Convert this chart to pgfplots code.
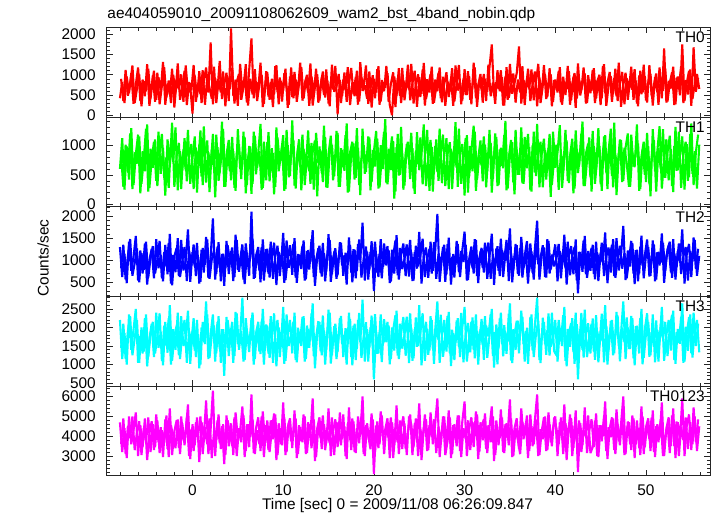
\documentclass[border=0pt]{standalone}
\usepackage{fontspec}
\setmainfont{Liberation Sans}
\usepackage{pgfplots}
\usepackage{pgfplotstable}
\pgfplotsset{compat=1.18}
\definecolor{qred}{RGB}{255,0,0}
\definecolor{qgreen}{RGB}{0,255,0}
\definecolor{qblue}{RGB}{0,0,255}
\definecolor{qcyan}{RGB}{0,255,255}
\definecolor{qmag}{RGB}{255,0,255}
\newcommand{\lab}{\fontsize{15.4}{18}\selectfont}
\tikzset{thlabel/.style={anchor=north east, inner sep=0pt, font=\lab, xshift=-5pt, yshift=-4.5pt}}
\pgfplotsset{
 panel/.style={
  scale only axis, width=603.3pt, height=89.7pt,
  xmin=-9.46, xmax=57.06,
  xtick={-10,0,...,60}, minor x tick num=4,
  minor y tick num=4,
  tick align=inside, tick pos=both,
  major tick length=6pt, minor tick length=3.5pt,
  axis line style={line width=0.8pt, black!85},
  every tick/.style={black!85, line width=0.6pt},
  tick label style={font=\lab},
  /pgf/number format/assume math mode=true,
  /pgf/number format/1000 sep={},
  yticklabel style={inner sep=0pt, xshift=-10.7pt},
  xticklabel style={inner sep=0pt, yshift=-9pt},
  scaled y ticks=false,
  clip=true,
 },
 curve/.style={line width=2.1pt, line join=bevel, mark=none},
}

% even bins (t = -8 + 0.25 i)
\pgfplotstableread[row sep=\\,header=false]{
420\\ 820\\ 300\\ 960\\ 540\\ 1040\\ 280\\ 760\\ 1180\\ 350\\ 880\\ 470\\ 1260\\ 230\\ 690\\ 1100\\
380\\ 940\\ 610\\ 1320\\ 260\\ 780\\ 510\\ 1150\\ 190\\ 870\\ 640\\ 1010\\ 330\\ 1230\\ 560\\ 720\\
40\\ 980\\ 450\\ 1090\\ 300\\ 830\\ 1180\\ 560\\ 1800\\ 270\\ 910\\ 620\\ 1340\\ 400\\ 760\\ 1050\\
350\\ 2150\\ 480\\ 880\\ 230\\ 1270\\ 590\\ 940\\ 310\\ 1120\\ 1900\\ 420\\ 820\\ 660\\ 1300\\ 200\\
730\\ 1060\\ 380\\ 900\\ 520\\ 1240\\ 270\\ 850\\ 610\\ 1150\\ 180\\ 960\\ 450\\ 1070\\ 330\\ 790\\
1190\\ 410\\ 880\\ 560\\ 1280\\ 240\\ 700\\ 1010\\ 360\\ 930\\ 500\\ 1130\\ 290\\ 820\\ 640\\ 1220\\
20\\ 870\\ 470\\ 1060\\ 330\\ 780\\ 1170\\ 520\\ 950\\ 260\\ 1310\\ 600\\ 740\\ 410\\ 1080\\ 190\\
900\\ 560\\ 1210\\ 340\\ 810\\ 680\\ 1040\\ 250\\ 0\\ 960\\ 480\\ 1160\\ 300\\ 860\\ 620\\ 1250\\
370\\ 790\\ 1100\\ 210\\ 940\\ 530\\ 1290\\ 400\\ 720\\ 1020\\ 280\\ 880\\ 590\\ 1180\\ 320\\ 760\\
1060\\ 450\\ 890\\ 230\\ 1230\\ 610\\ 830\\ 360\\ 1140\\ 500\\ 970\\ 270\\ 1300\\ 420\\ 740\\ 1020\\
310\\ 900\\ 580\\ 1200\\ 1750\\ 470\\ 820\\ 650\\ 1110\\ 240\\ 960\\ 380\\ 1270\\ 530\\ 790\\ 1040\\
1700\\ 290\\ 870\\ 620\\ 1150\\ 350\\ 760\\ 1080\\ 220\\ 930\\ 510\\ 1240\\ 400\\ 690\\ 1010\\ 330\\
880\\ 560\\ 1190\\ 260\\ 820\\ 640\\ 1090\\ 370\\ 950\\ 180\\ 1280\\ 490\\ 770\\ 1030\\ 300\\ 860\\
600\\ 1160\\ 410\\ 900\\ 250\\ 1220\\ 540\\ 800\\ 1070\\ 330\\ 920\\ 470\\ 1300\\ 210\\ 750\\ 1050\\
380\\ 870\\ 630\\ 1140\\ 290\\ 980\\ 520\\ 1250\\ 360\\ 810\\ 1020\\ 240\\ 940\\ 570\\ 1180\\ 420\\
1650\\ 310\\ 850\\ 660\\ 1200\\ 270\\ 960\\ 490\\ 1750\\ 350\\ 800\\ 1100\\ 230\\ 1680\\ 580\\ 920\\
}\tha
% odd bins (t = -7.875 + 0.25 i)
\pgfplotstableread[row sep=\\,header=false]{
900\\ 350\\ 1120\\ 480\\ 760\\ 1230\\ 300\\ 650\\ 1010\\ 220\\ 840\\ 590\\ 1150\\ 410\\ 980\\ 330\\
1050\\ 270\\ 720\\ 1190\\ 440\\ 860\\ 300\\ 1000\\ 560\\ 1280\\ 380\\ 690\\ 1100\\ 250\\ 820\\ 610\\
1240\\ 330\\ 780\\ 520\\ 1110\\ 260\\ 950\\ 680\\ 410\\ 1200\\ 300\\ 870\\ 560\\ 1080\\ 220\\ 930\\
640\\ 1170\\ 290\\ 820\\ 1020\\ 380\\ 700\\ 1260\\ 240\\ 900\\ 510\\ 1140\\ 350\\ 760\\ 1000\\ 280\\
1090\\ 460\\ 820\\ 200\\ 1210\\ 570\\ 930\\ 340\\ 1040\\ 690\\ 260\\ 1180\\ 420\\ 880\\ 600\\ 1300\\
360\\ 790\\ 1000\\ 230\\ 960\\ 520\\ 1150\\ 310\\ 740\\ 1080\\ 440\\ 860\\ 220\\ 1250\\ 580\\ 700\\
1020\\ 300\\ 880\\ 620\\ 1190\\ 250\\ 810\\ 470\\ 1100\\ 340\\ 930\\ 710\\ 1230\\ 280\\ 650\\ 990\\
420\\ 1140\\ 260\\ 870\\ 590\\ 1220\\ 330\\ 780\\ 1060\\ 200\\ 920\\ 480\\ 1170\\ 370\\ 840\\ 640\\
1270\\ 290\\ 760\\ 1010\\ 450\\ 1130\\ 240\\ 890\\ 560\\ 1200\\ 310\\ 700\\ 1050\\ 420\\ 950\\ 230\\
830\\ 600\\ 1160\\ 340\\ 780\\ 1240\\ 270\\ 910\\ 500\\ 1090\\ 380\\ 720\\ 1180\\ 210\\ 860\\ 640\\
1020\\ 350\\ 1250\\ 470\\ 810\\ 280\\ 1110\\ 590\\ 940\\ 240\\ 1190\\ 430\\ 760\\ 1030\\ 310\\ 880\\
560\\ 1210\\ 250\\ 900\\ 660\\ 1130\\ 370\\ 820\\ 1270\\ 300\\ 740\\ 1010\\ 450\\ 1160\\ 220\\ 870\\
680\\ 1090\\ 320\\ 950\\ 500\\ 1220\\ 260\\ 780\\ 1040\\ 410\\ 880\\ 620\\ 1180\\ 290\\ 990\\ 540\\
1120\\ 300\\ 840\\ 1000\\ 420\\ 1260\\ 230\\ 720\\ 960\\ 520\\ 1150\\ 350\\ 800\\ 1070\\ 270\\ 910\\
640\\ 1200\\ 380\\ 860\\ 220\\ 1100\\ 560\\ 970\\ 310\\ 1240\\ 470\\ 750\\ 1030\\ 260\\ 890\\ 600\\
1150\\ 340\\ 800\\ 1060\\ 250\\ 930\\ 690\\ 1210\\ 300\\ 870\\ 510\\ 1130\\ 400\\ 770\\ 1020\\ 650\\
}\thaa

\pgfplotstableread[row sep=\\,header=false]{
600\\ 1120\\ 250\\ 980\\ 420\\ 1290\\ 330\\ 850\\ 1180\\ 190\\ 900\\ 560\\ 1350\\ 280\\ 760\\ 1060\\
400\\ 1230\\ 520\\ 960\\ 150\\ 1100\\ 640\\ 1380\\ 300\\ 820\\ 1040\\ 260\\ 930\\ 580\\ 1260\\ 350\\
780\\ 1150\\ 200\\ 1010\\ 470\\ 1320\\ 370\\ 880\\ 620\\ 1190\\ 120\\ 970\\ 540\\ 1400\\ 300\\ 840\\
1090\\ 410\\ 900\\ 230\\ 1270\\ 600\\ 800\\ 1140\\ 330\\ 990\\ 180\\ 1230\\ 510\\ 870\\ 1360\\ 280\\
720\\ 1050\\ 390\\ 950\\ 170\\ 1300\\ 560\\ 830\\ 1170\\ 260\\ 1000\\ 480\\ 1420\\ 320\\ 790\\ 1100\\
240\\ 940\\ 620\\ 1250\\ 350\\ 880\\ 1080\\ 140\\ 980\\ 530\\ 1330\\ 290\\ 860\\ 1160\\ 410\\ 760\\
1210\\ 300\\ 920\\ 570\\ 1370\\ 220\\ 840\\ 1030\\ 450\\ 960\\ 160\\ 1280\\ 520\\ 790\\ 1130\\ 380\\
890\\ 1240\\ 270\\ 1000\\ 600\\ 1440\\ 340\\ 810\\ 1150\\ 100\\ 970\\ 490\\ 1310\\ 250\\ 870\\ 1060\\
430\\ 950\\ 180\\ 1220\\ 580\\ 850\\ 1350\\ 310\\ 770\\ 1090\\ 220\\ 990\\ 550\\ 1280\\ 360\\ 820\\
1120\\ 260\\ 940\\ 640\\ 1390\\ 300\\ 880\\ 1020\\ 150\\ 1170\\ 470\\ 910\\ 1330\\ 230\\ 780\\ 1080\\
390\\ 1010\\ 560\\ 1260\\ 200\\ 860\\ 1140\\ 330\\ 960\\ 610\\ 1410\\ 270\\ 820\\ 1050\\ 170\\ 930\\
500\\ 1300\\ 350\\ 890\\ 1190\\ 240\\ 1000\\ 540\\ 1360\\ 290\\ 840\\ 1110\\ 420\\ 950\\ 130\\ 1230\\
620\\ 880\\ 1340\\ 280\\ 790\\ 1080\\ 360\\ 970\\ 190\\ 1250\\ 530\\ 860\\ 1400\\ 310\\ 740\\ 1130\\
220\\ 990\\ 590\\ 1290\\ 340\\ 900\\ 1170\\ 260\\ 1030\\ 480\\ 1380\\ 160\\ 850\\ 1090\\ 400\\ 960\\
1200\\ 300\\ 870\\ 630\\ 1350\\ 230\\ 810\\ 1060\\ 380\\ 980\\ 140\\ 1270\\ 560\\ 900\\ 1320\\ 270\\
760\\ 1100\\ 410\\ 940\\ 210\\ 1310\\ 580\\ 830\\ 1150\\ 250\\ 1020\\ 460\\ 1370\\ 330\\ 880\\ 1180\\
}\thb
\pgfplotstableread[row sep=\\,header=false]{
830\\ 300\\ 1010\\ 540\\ 1200\\ 260\\ 880\\ 690\\ 1150\\ 350\\ 760\\ 1280\\ 220\\ 940\\ 620\\ 1100\\
310\\ 870\\ 1190\\ 450\\ 800\\ 280\\ 1060\\ 720\\ 1300\\ 240\\ 900\\ 580\\ 1120\\ 390\\ 830\\ 1020\\
260\\ 960\\ 680\\ 1250\\ 330\\ 840\\ 1080\\ 210\\ 930\\ 600\\ 1180\\ 400\\ 720\\ 1270\\ 300\\ 890\\
560\\ 1140\\ 280\\ 860\\ 1020\\ 430\\ 1230\\ 190\\ 790\\ 980\\ 350\\ 1160\\ 620\\ 900\\ 250\\ 1060\\
410\\ 1220\\ 570\\ 870\\ 300\\ 1130\\ 690\\ 980\\ 230\\ 1260\\ 460\\ 810\\ 1090\\ 270\\ 950\\ 640\\
1180\\ 330\\ 820\\ 560\\ 1040\\ 250\\ 1210\\ 700\\ 910\\ 380\\ 1140\\ 280\\ 860\\ 1010\\ 480\\ 1240\\
300\\ 950\\ 630\\ 1170\\ 200\\ 880\\ 1060\\ 420\\ 1290\\ 330\\ 770\\ 1000\\ 550\\ 1150\\ 240\\ 920\\
640\\ 1110\\ 290\\ 830\\ 1230\\ 360\\ 940\\ 580\\ 1070\\ 220\\ 1190\\ 500\\ 860\\ 320\\ 1020\\ 750\\
1210\\ 270\\ 900\\ 680\\ 1130\\ 340\\ 800\\ 1260\\ 230\\ 970\\ 540\\ 1100\\ 400\\ 880\\ 1180\\ 310\\
850\\ 1050\\ 260\\ 920\\ 620\\ 1280\\ 350\\ 760\\ 1120\\ 200\\ 990\\ 560\\ 1230\\ 420\\ 830\\ 660\\
1150\\ 290\\ 870\\ 1040\\ 430\\ 1200\\ 310\\ 930\\ 650\\ 1170\\ 240\\ 800\\ 1090\\ 370\\ 1260\\ 500\\
890\\ 360\\ 1140\\ 610\\ 970\\ 220\\ 1230\\ 480\\ 840\\ 1060\\ 290\\ 920\\ 700\\ 1190\\ 330\\ 780\\
1010\\ 250\\ 880\\ 570\\ 1260\\ 400\\ 820\\ 1110\\ 270\\ 940\\ 650\\ 1200\\ 310\\ 860\\ 1030\\ 460\\
1240\\ 350\\ 790\\ 990\\ 230\\ 1150\\ 540\\ 900\\ 1280\\ 290\\ 830\\ 620\\ 1100\\ 380\\ 960\\ 700\\
300\\ 1180\\ 640\\ 870\\ 1030\\ 260\\ 920\\ 500\\ 1210\\ 340\\ 800\\ 1090\\ 220\\ 950\\ 600\\ 1270\\
450\\ 880\\ 1160\\ 310\\ 990\\ 570\\ 1230\\ 280\\ 840\\ 1060\\ 400\\ 1190\\ 520\\ 900\\ 270\\ 1010\\
}\thbb

\pgfplotstableread[row sep=\\,header=false]{
1300\\ 620\\ 1150\\ 480\\ 1420\\ 760\\ 1080\\ 1550\\ 540\\ 1220\\ 700\\ 1380\\ 450\\ 1010\\ 1260\\ 590\\
1480\\ 820\\ 1120\\ 520\\ 1350\\ 680\\ 1600\\ 430\\ 1090\\ 1280\\ 640\\ 1460\\ 770\\ 990\\ 1700\\ 510\\
1180\\ 860\\ 1390\\ 470\\ 1240\\ 720\\ 1530\\ 600\\ 1070\\ 1950\\ 560\\ 1310\\ 830\\ 1140\\ 420\\ 1440\\
690\\ 1210\\ 530\\ 1580\\ 780\\ 1020\\ 1360\\ 460\\ 1170\\ 650\\ 2100\\ 580\\ 1100\\ 1300\\ 500\\ 1470\\
740\\ 1260\\ 610\\ 1050\\ 1400\\ 440\\ 1190\\ 870\\ 1620\\ 550\\ 1030\\ 1340\\ 670\\ 1500\\ 490\\ 1130\\
800\\ 1450\\ 570\\ 1230\\ 960\\ 1680\\ 420\\ 1080\\ 1330\\ 630\\ 1160\\ 750\\ 1590\\ 510\\ 1040\\ 1270\\
660\\ 1410\\ 880\\ 1110\\ 450\\ 1520\\ 720\\ 1250\\ 590\\ 1370\\ 1000\\ 1850\\ 540\\ 1200\\ 780\\ 1430\\
300\\ 1150\\ 620\\ 1480\\ 850\\ 1060\\ 1320\\ 480\\ 1240\\ 700\\ 1570\\ 560\\ 1120\\ 1380\\ 640\\ 1010\\
1460\\ 530\\ 1190\\ 810\\ 1640\\ 470\\ 1090\\ 1290\\ 600\\ 1420\\ 760\\ 1180\\ 2050\\ 510\\ 1060\\ 1350\\
680\\ 1510\\ 450\\ 1140\\ 900\\ 1370\\ 620\\ 1230\\ 1650\\ 540\\ 1020\\ 1310\\ 700\\ 1460\\ 480\\ 1200\\
830\\ 1400\\ 580\\ 1090\\ 1600\\ 440\\ 1270\\ 760\\ 1490\\ 620\\ 1150\\ 980\\ 1720\\ 500\\ 1080\\ 1340\\
650\\ 1530\\ 820\\ 1170\\ 470\\ 1380\\ 710\\ 1250\\ 1900\\ 560\\ 1100\\ 1290\\ 610\\ 1440\\ 790\\ 1060\\
1360\\ 520\\ 1210\\ 870\\ 1580\\ 450\\ 1130\\ 1320\\ 680\\ 1470\\ 250\\ 1190\\ 740\\ 1550\\ 600\\ 1040\\
1280\\ 690\\ 1420\\ 530\\ 1160\\ 940\\ 1630\\ 480\\ 1070\\ 1350\\ 640\\ 1500\\ 770\\ 1120\\ 1780\\ 550\\
1220\\ 860\\ 1390\\ 460\\ 1240\\ 700\\ 1560\\ 590\\ 1110\\ 1300\\ 650\\ 1450\\ 520\\ 1180\\ 880\\ 1610\\
490\\ 1090\\ 1330\\ 720\\ 1480\\ 560\\ 1210\\ 950\\ 1700\\ 470\\ 1150\\ 1370\\ 620\\ 1520\\ 800\\ 1260\\
}\thc
\pgfplotstableread[row sep=\\,header=false]{
820\\ 1350\\ 560\\ 1100\\ 1480\\ 650\\ 930\\ 1270\\ 500\\ 1160\\ 780\\ 1420\\ 610\\ 1050\\ 1320\\ 700\\
1010\\ 1440\\ 590\\ 1190\\ 860\\ 1390\\ 470\\ 1120\\ 730\\ 1500\\ 620\\ 980\\ 1300\\ 530\\ 1220\\ 880\\
1360\\ 640\\ 1080\\ 510\\ 1280\\ 900\\ 1470\\ 580\\ 1010\\ 1230\\ 690\\ 1410\\ 520\\ 1150\\ 810\\ 1340\\
980\\ 1290\\ 620\\ 1460\\ 740\\ 1130\\ 560\\ 1380\\ 860\\ 1060\\ 1490\\ 600\\ 1200\\ 770\\ 1300\\ 540\\
1250\\ 700\\ 1420\\ 580\\ 1090\\ 1330\\ 640\\ 1180\\ 490\\ 1450\\ 830\\ 1040\\ 1370\\ 610\\ 1140\\ 920\\
1330\\ 540\\ 1210\\ 790\\ 1480\\ 620\\ 1000\\ 1270\\ 710\\ 1390\\ 520\\ 1110\\ 1460\\ 680\\ 1200\\ 580\\
1060\\ 1400\\ 650\\ 1170\\ 900\\ 1350\\ 500\\ 1240\\ 760\\ 1470\\ 610\\ 1030\\ 1310\\ 560\\ 1180\\ 840\\
1420\\ 720\\ 1150\\ 590\\ 1380\\ 880\\ 1230\\ 520\\ 1090\\ 1450\\ 660\\ 1280\\ 800\\ 1020\\ 1360\\ 630\\
1190\\ 540\\ 1330\\ 860\\ 1100\\ 1490\\ 620\\ 1020\\ 1260\\ 700\\ 1410\\ 580\\ 1140\\ 900\\ 1300\\ 510\\
1370\\ 800\\ 1080\\ 610\\ 1440\\ 730\\ 1210\\ 960\\ 1350\\ 550\\ 1170\\ 820\\ 1480\\ 640\\ 1050\\ 1280\\
720\\ 1180\\ 1400\\ 580\\ 1090\\ 870\\ 1320\\ 640\\ 1230\\ 1010\\ 1460\\ 530\\ 1150\\ 780\\ 1370\\ 690\\
1280\\ 610\\ 1100\\ 1430\\ 750\\ 1200\\ 560\\ 1390\\ 910\\ 1060\\ 1340\\ 620\\ 1480\\ 700\\ 1130\\ 860\\
1040\\ 1370\\ 590\\ 1250\\ 820\\ 1420\\ 660\\ 1110\\ 1300\\ 540\\ 1190\\ 930\\ 1450\\ 680\\ 1210\\ 760\\
1350\\ 570\\ 1170\\ 890\\ 1400\\ 640\\ 1080\\ 1290\\ 720\\ 1480\\ 600\\ 1030\\ 1330\\ 810\\ 1160\\ 590\\
1000\\ 1440\\ 700\\ 1230\\ 520\\ 1310\\ 880\\ 1120\\ 1470\\ 630\\ 1060\\ 1360\\ 560\\ 1190\\ 950\\ 1400\\
760\\ 1250\\ 1420\\ 600\\ 1150\\ 840\\ 1380\\ 690\\ 1090\\ 1300\\ 540\\ 1210\\ 980\\ 1460\\ 650\\ 1100\\
}\thcc

\pgfplotstableread[row sep=\\,header=false]{
2200\\ 1150\\ 1850\\ 1000\\ 2350\\ 1400\\ 1950\\ 2500\\ 1050\\ 1780\\ 1300\\ 2250\\ 950\\ 1700\\ 2100\\ 1200\\
2400\\ 1450\\ 1880\\ 980\\ 2150\\ 1320\\ 2600\\ 1100\\ 1760\\ 2050\\ 1250\\ 2300\\ 1500\\ 1690\\ 2450\\ 1020\\
1900\\ 1380\\ 2200\\ 900\\ 2000\\ 1600\\ 2700\\ 1150\\ 1820\\ 2350\\ 1080\\ 2150\\ 1420\\ 1950\\ 700\\ 2280\\
1230\\ 1980\\ 1050\\ 2420\\ 1550\\ 1750\\ 2800\\ 1120\\ 1900\\ 1340\\ 2250\\ 1000\\ 1840\\ 2150\\ 1280\\ 2500\\
1400\\ 2050\\ 1180\\ 1720\\ 2380\\ 950\\ 2000\\ 1470\\ 2550\\ 1100\\ 1800\\ 2200\\ 1300\\ 2400\\ 1060\\ 1880\\
1500\\ 2300\\ 1150\\ 1960\\ 1650\\ 2650\\ 900\\ 1850\\ 2150\\ 1250\\ 1920\\ 1400\\ 2480\\ 1030\\ 1700\\ 2100\\
1340\\ 2250\\ 1550\\ 1800\\ 1000\\ 2400\\ 1200\\ 2050\\ 1120\\ 2200\\ 1600\\ 2750\\ 1080\\ 1950\\ 1450\\ 2320\\
600\\ 1880\\ 1300\\ 2350\\ 1560\\ 1740\\ 2150\\ 1010\\ 2000\\ 1380\\ 2450\\ 1150\\ 1830\\ 2280\\ 1240\\ 1700\\
2380\\ 1100\\ 1950\\ 1480\\ 2600\\ 980\\ 1820\\ 2150\\ 1260\\ 2300\\ 1420\\ 1900\\ 2700\\ 1050\\ 1760\\ 2200\\
1350\\ 2420\\ 960\\ 1850\\ 1580\\ 2250\\ 1200\\ 2000\\ 2550\\ 1080\\ 1700\\ 2150\\ 1390\\ 2350\\ 1000\\ 1960\\
1520\\ 2300\\ 1180\\ 1780\\ 2500\\ 920\\ 2080\\ 1440\\ 2400\\ 1220\\ 1860\\ 1620\\ 2650\\ 1040\\ 1800\\ 2180\\
1300\\ 2450\\ 1550\\ 1900\\ 1020\\ 2280\\ 1380\\ 2050\\ 2800\\ 1120\\ 1760\\ 2150\\ 1260\\ 2380\\ 1480\\ 1700\\
2200\\ 1080\\ 1980\\ 1500\\ 2550\\ 950\\ 1850\\ 2120\\ 1340\\ 2400\\ 600\\ 1950\\ 1400\\ 2480\\ 1200\\ 1730\\
2100\\ 1350\\ 2330\\ 1060\\ 1890\\ 1620\\ 2600\\ 1000\\ 1780\\ 2200\\ 1300\\ 2420\\ 1500\\ 1850\\ 2700\\ 1150\\
2000\\ 1420\\ 2250\\ 980\\ 2050\\ 1300\\ 2500\\ 1180\\ 1820\\ 2150\\ 1250\\ 2350\\ 1060\\ 1930\\ 1600\\ 2550\\
1100\\ 1800\\ 2200\\ 1380\\ 2450\\ 1020\\ 1960\\ 1560\\ 2650\\ 1080\\ 1850\\ 2280\\ 1300\\ 2400\\ 1500\\ 2100\\
}\thd
\pgfplotstableread[row sep=\\,header=false]{
1450\\ 2100\\ 1150\\ 1900\\ 2300\\ 1250\\ 1700\\ 2200\\ 1050\\ 2000\\ 1350\\ 2350\\ 1200\\ 1800\\ 2150\\ 1300\\
1750\\ 2380\\ 1100\\ 2050\\ 1500\\ 2250\\ 1000\\ 1950\\ 1400\\ 2400\\ 1150\\ 1850\\ 2200\\ 1050\\ 1900\\ 1600\\
2250\\ 1200\\ 1820\\ 1000\\ 2150\\ 1550\\ 2350\\ 1180\\ 1780\\ 2050\\ 1300\\ 2300\\ 1050\\ 1950\\ 1450\\ 2200\\
1680\\ 2150\\ 1230\\ 2380\\ 1400\\ 1900\\ 1080\\ 2250\\ 1560\\ 1820\\ 2400\\ 1150\\ 2000\\ 1350\\ 2180\\ 1000\\
2080\\ 1300\\ 2300\\ 1050\\ 1860\\ 2200\\ 1200\\ 1950\\ 1020\\ 2350\\ 1500\\ 1770\\ 2150\\ 1120\\ 1990\\ 1640\\
2280\\ 1080\\ 2050\\ 1450\\ 2380\\ 1230\\ 1720\\ 2170\\ 1360\\ 2320\\ 1000\\ 1890\\ 2400\\ 1250\\ 2030\\ 1150\\
1780\\ 2310\\ 1200\\ 1980\\ 1550\\ 2230\\ 980\\ 2100\\ 1420\\ 2390\\ 1180\\ 1760\\ 2140\\ 1080\\ 2000\\ 1500\\
2360\\ 1290\\ 1870\\ 1070\\ 2220\\ 1600\\ 2050\\ 1150\\ 1930\\ 2330\\ 1240\\ 2100\\ 1430\\ 1800\\ 2290\\ 1040\\
1990\\ 1170\\ 2270\\ 1500\\ 1850\\ 2380\\ 1100\\ 1960\\ 1380\\ 2200\\ 1020\\ 2080\\ 1660\\ 2340\\ 1210\\ 1790\\
2310\\ 1300\\ 1940\\ 1120\\ 2190\\ 1470\\ 2390\\ 1060\\ 1840\\ 2120\\ 1330\\ 2270\\ 1170\\ 1910\\ 1590\\ 2230\\
1130\\ 2050\\ 1760\\ 2360\\ 1230\\ 1880\\ 1010\\ 2240\\ 1560\\ 2060\\ 1290\\ 2370\\ 1110\\ 1950\\ 1400\\ 2180\\
1870\\ 2290\\ 1080\\ 1990\\ 1470\\ 2350\\ 1200\\ 1830\\ 2170\\ 1040\\ 2260\\ 1550\\ 1920\\ 1240\\ 2400\\ 1360\\
1250\\ 2200\\ 1640\\ 2330\\ 1100\\ 1960\\ 1480\\ 2250\\ 1020\\ 2090\\ 1370\\ 2390\\ 1190\\ 1830\\ 2110\\ 1300\\
2240\\ 1130\\ 1900\\ 1520\\ 2370\\ 1060\\ 2040\\ 1400\\ 2180\\ 1250\\ 1780\\ 2320\\ 1090\\ 2000\\ 1600\\ 2270\\
1420\\ 2310\\ 1170\\ 2030\\ 1540\\ 2250\\ 1010\\ 1960\\ 2380\\ 1210\\ 1860\\ 1480\\ 2190\\ 1080\\ 2080\\ 1690\\
2150\\ 1230\\ 1980\\ 2340\\ 1120\\ 1870\\ 1580\\ 2280\\ 1050\\ 2020\\ 1370\\ 2350\\ 1190\\ 1910\\ 2200\\ 1330\\
}\thdd

\pgfplotstableread[row sep=\\,header=false]{
4700\\ 3200\\ 4400\\ 2900\\ 5000\\ 3600\\ 4300\\ 5200\\ 3000\\ 4550\\ 3450\\ 4900\\ 2800\\ 4150\\ 4750\\ 3300\\
5100\\ 3700\\ 4450\\ 2950\\ 4850\\ 3350\\ 5400\\ 3050\\ 4250\\ 4800\\ 3400\\ 5000\\ 3800\\ 4200\\ 5600\\ 2850\\
4600\\ 3550\\ 4950\\ 2700\\ 4700\\ 3900\\ 5800\\ 3100\\ 4350\\ 6300\\ 3000\\ 4800\\ 3650\\ 4500\\ 2600\\ 5050\\
3500\\ 4650\\ 3050\\ 5200\\ 3850\\ 4250\\ 5500\\ 2950\\ 4600\\ 3450\\ 6100\\ 3150\\ 4400\\ 4950\\ 3250\\ 5250\\
3700\\ 4800\\ 3200\\ 4300\\ 5150\\ 2800\\ 4650\\ 3600\\ 5700\\ 3050\\ 4450\\ 4900\\ 3400\\ 5300\\ 2900\\ 4550\\
3750\\ 5100\\ 3100\\ 4700\\ 4100\\ 5900\\ 2750\\ 4400\\ 4950\\ 3350\\ 4600\\ 3650\\ 5400\\ 3000\\ 4250\\ 4850\\
3450\\ 5200\\ 3850\\ 4500\\ 2850\\ 5450\\ 3300\\ 4750\\ 3150\\ 5000\\ 4050\\ 6000\\ 3000\\ 4650\\ 3700\\ 5150\\
2100\\ 4550\\ 3400\\ 5250\\ 3950\\ 4350\\ 4900\\ 2900\\ 4700\\ 3550\\ 5550\\ 3100\\ 4450\\ 5000\\ 3350\\ 4200\\
5100\\ 3050\\ 4650\\ 3750\\ 5650\\ 2800\\ 4400\\ 4850\\ 3300\\ 5200\\ 3600\\ 4600\\ 5900\\ 2950\\ 4300\\ 5000\\
3500\\ 5300\\ 2900\\ 4550\\ 3900\\ 5050\\ 3250\\ 4750\\ 5750\\ 3000\\ 4350\\ 4950\\ 3450\\ 5250\\ 2850\\ 4700\\
3800\\ 5150\\ 3150\\ 4450\\ 5500\\ 2750\\ 4800\\ 3550\\ 5350\\ 3200\\ 4600\\ 4100\\ 5850\\ 2950\\ 4400\\ 4900\\
3350\\ 5400\\ 3850\\ 4650\\ 2900\\ 5100\\ 3500\\ 4800\\ 6100\\ 3050\\ 4250\\ 4950\\ 3250\\ 5200\\ 3700\\ 4400\\
5000\\ 3000\\ 4700\\ 3800\\ 5600\\ 2800\\ 4500\\ 4900\\ 3400\\ 5300\\ 2200\\ 4650\\ 3550\\ 5450\\ 3150\\ 4300\\
4850\\ 3450\\ 5150\\ 2950\\ 4550\\ 4000\\ 5750\\ 2850\\ 4400\\ 4950\\ 3300\\ 5350\\ 3750\\ 4600\\ 6000\\ 3100\\
4750\\ 3600\\ 5050\\ 2900\\ 4800\\ 3400\\ 5500\\ 3100\\ 4450\\ 4900\\ 3250\\ 5300\\ 2950\\ 4600\\ 3900\\ 5700\\
3000\\ 4400\\ 4950\\ 3500\\ 5400\\ 2900\\ 4700\\ 3850\\ 5900\\ 3000\\ 4550\\ 5100\\ 3300\\ 5450\\ 3700\\ 4850\\
}\thsum
\pgfplotstableread[row sep=\\,header=false]{
3600\\ 4900\\ 3100\\ 4500\\ 3900\\ 5000\\ 3300\\ 4200\\ 4750\\ 3050\\ 4400\\ 3700\\ 4950\\ 3200\\ 4600\\ 3450\\
4800\\ 3150\\ 4300\\ 3650\\ 5050\\ 2950\\ 4550\\ 4000\\ 3400\\ 4850\\ 3100\\ 4650\\ 3550\\ 4950\\ 3000\\ 4350\\
3250\\ 4700\\ 4050\\ 5000\\ 3100\\ 4450\\ 3600\\ 4900\\ 2900\\ 4250\\ 3800\\ 5100\\ 3350\\ 4600\\ 3050\\ 4800\\
4150\\ 3500\\ 4950\\ 3000\\ 4400\\ 3700\\ 5050\\ 3250\\ 4600\\ 3950\\ 4850\\ 3100\\ 4300\\ 3600\\ 5000\\ 2950\\
4550\\ 3300\\ 4800\\ 3850\\ 5100\\ 3050\\ 4350\\ 3550\\ 4950\\ 3200\\ 4700\\ 3750\\ 4200\\ 4900\\ 3100\\ 4450\\
3700\\ 5000\\ 3150\\ 4600\\ 3400\\ 4850\\ 2950\\ 4500\\ 3900\\ 5050\\ 3300\\ 4250\\ 3650\\ 4950\\ 3050\\ 4700\\
4300\\ 3550\\ 5100\\ 3000\\ 4650\\ 3800\\ 4900\\ 3200\\ 4400\\ 3650\\ 5000\\ 3100\\ 4550\\ 4050\\ 3350\\ 4850\\
3200\\ 4750\\ 3600\\ 5050\\ 3100\\ 4500\\ 3900\\ 4950\\ 2900\\ 4300\\ 3700\\ 4800\\ 3350\\ 4650\\ 3050\\ 5000\\
4600\\ 3450\\ 4900\\ 3000\\ 4350\\ 3800\\ 5100\\ 3250\\ 4550\\ 3950\\ 4850\\ 3150\\ 4450\\ 3600\\ 5000\\ 3050\\
3750\\ 4950\\ 3100\\ 4600\\ 3500\\ 5050\\ 2950\\ 4400\\ 3850\\ 4800\\ 3300\\ 4700\\ 4000\\ 5100\\ 3200\\ 4500\\
4850\\ 3350\\ 4550\\ 3700\\ 5000\\ 3050\\ 4250\\ 3900\\ 4950\\ 3150\\ 4650\\ 3550\\ 4900\\ 3000\\ 4400\\ 3800\\
3100\\ 4700\\ 4050\\ 5050\\ 3250\\ 4500\\ 3600\\ 4850\\ 3000\\ 4350\\ 3850\\ 5000\\ 3300\\ 4600\\ 3500\\ 4950\\
4400\\ 3600\\ 4950\\ 3100\\ 4650\\ 3850\\ 5100\\ 3000\\ 4500\\ 3700\\ 4800\\ 3200\\ 4300\\ 4000\\ 5050\\ 3150\\
3450\\ 4800\\ 3000\\ 4550\\ 3750\\ 5000\\ 3250\\ 4450\\ 3950\\ 4900\\ 3100\\ 4600\\ 3550\\ 5050\\ 3050\\ 4350\\
4700\\ 3300\\ 4900\\ 3600\\ 4400\\ 3050\\ 5000\\ 3450\\ 4650\\ 3850\\ 4950\\ 3200\\ 4500\\ 3700\\ 4850\\ 3000\\
3900\\ 4600\\ 3150\\ 5050\\ 3500\\ 4750\\ 3000\\ 4450\\ 3800\\ 4950\\ 3350\\ 4700\\ 3600\\ 5000\\ 3250\\ 4500\\
}\thsumm

\begin{document}
\begin{tikzpicture}
\useasboundingbox (-106.7pt,-488.7pt) rectangle (610.3pt,27.3pt);

\begin{axis}[panel, name=p1, at={(0pt,0pt)}, anchor=north west,
  ymin=-45, ymax=2175, ytick={-500,0,...,2500}, xticklabels={}]
\addplot[curve, color=qred] table[x expr={-7.875+0.25*\coordindex}, y index=0] {\thaa};
\addplot[curve, color=qred] table[x expr={-8+0.25*\coordindex}, y index=0] {\tha};
\node[thlabel] at (rel axis cs:1,1) {TH0};
\end{axis}

\begin{axis}[panel, name=p2, at={(p1.south west)}, anchor=north west,
  ymin=-37, ymax=1477, ytick={-500,0,...,2000}, xticklabels={}]
\addplot[curve, color=qgreen] table[x expr={-7.875+0.25*\coordindex}, y index=0] {\thbb};
\addplot[curve, color=qgreen] table[x expr={-8+0.25*\coordindex}, y index=0] {\thb};
\node[thlabel] at (rel axis cs:1,1) {TH1};
\end{axis}

\begin{axis}[panel, name=p3, at={(p2.south west)}, anchor=north west,
  ymin=180, ymax=2215, ytick={0,500,...,2500}, xticklabels={}]
\addplot[curve, color=qblue] table[x expr={-7.875+0.25*\coordindex}, y index=0] {\thcc};
\addplot[curve, color=qblue] table[x expr={-8+0.25*\coordindex}, y index=0] {\thc};
\node[thlabel] at (rel axis cs:1,1) {TH2};
\end{axis}

\begin{axis}[panel, name=p4, at={(p3.south west)}, anchor=north west,
  ymin=420, ymax=2836, ytick={0,500,...,3000}, xticklabels={}]
\addplot[curve, color=qcyan] table[x expr={-7.875+0.25*\coordindex}, y index=0] {\thdd};
\addplot[curve, color=qcyan] table[x expr={-8+0.25*\coordindex}, y index=0] {\thd};
\node[thlabel] at (rel axis cs:1,1) {TH3};
\end{axis}

\begin{axis}[panel, name=p5, at={(p4.south west)}, anchor=north west,
  ymin=2008, ymax=6525, ytick={1000,2000,...,7000}]
\addplot[curve, color=qmag] table[x expr={-7.875+0.25*\coordindex}, y index=0] {\thsumm};
\addplot[curve, color=qmag] table[x expr={-8+0.25*\coordindex}, y index=0] {\thsum};
\node[thlabel] at (rel axis cs:1,1) {TH0123};
\end{axis}

\node[anchor=base west, inner sep=0pt, font=\lab] at (0.6pt,8.8pt) {ae404059010\_20091108062609\_wam2\_bst\_4band\_nobin.qdp};
\node[rotate=90, inner sep=0pt, font=\lab] at (-63.7pt,-230.7pt) {Counts/sec};
\node[anchor=base, inner sep=0pt, font=\lab] at (290.8pt,-482pt) {Time [sec] 0 = 2009/11/08 06:26:09.847};
\end{tikzpicture}
\end{document}
